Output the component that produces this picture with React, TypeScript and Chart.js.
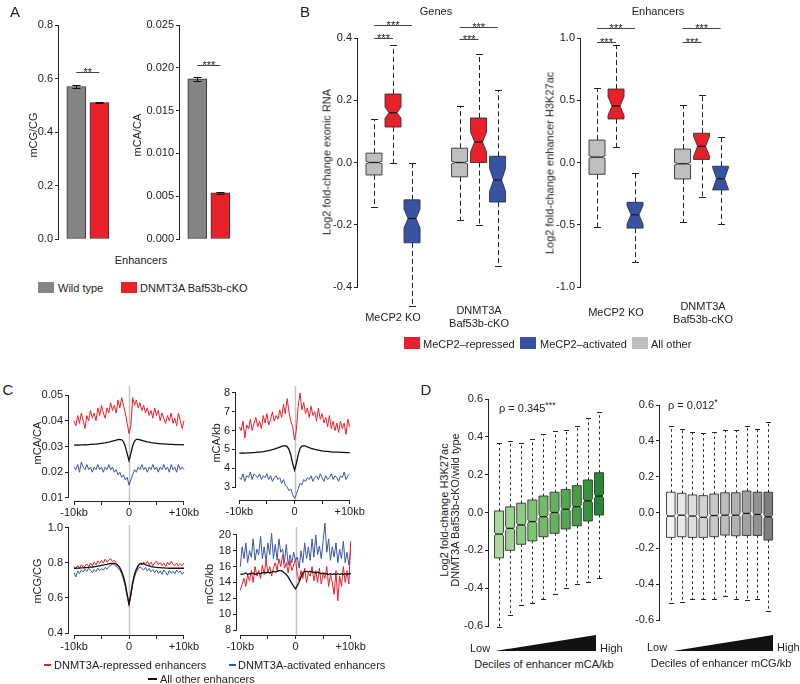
import React, { useEffect, useRef } from 'react';
import { Chart, registerables } from 'chart.js';
Chart.register(...registerables);

const FONT = "'Liberation Sans', Arial, Helvetica, sans-serif";
Chart.defaults.font.family = FONT;
Chart.defaults.font.size = 11;
Chart.defaults.color = '#222';

// ---------- Panel A ----------
const A_POS = [1, 2];
const A_GROUPS = ['Wild type', 'DNMT3A Baf53b-cKO'];
const A_COLORS = ['#858585', '#E8202A'];
const A_MCG = [0.57, 0.51];
const A_MCG_ERR = [0.004, 0.003];
const A_MCA = [0.0187, 0.0054];
const A_MCA_ERR = [0.0002, 0.00012];
const A_MCG_TICKS = [0, 0.2, 0.4, 0.6, 0.8];
const A_MCA_TICKS = [0, 0.005, 0.01, 0.015, 0.02, 0.025];

// ---------- Panel B ----------
const B_POS = [1, 2, 3, 5.5, 6.5, 7.5];
const B_GROUPS = ['MeCP2 KO', 'DNMT3A Baf53b-cKO'];
const B_CLASSES = ['MeCP2\u2013repressed', 'MeCP2\u2013activated', 'All other'];
const B_COLORS = ['#BFBFBF', '#E8202A', '#3853A4', '#BFBFBF', '#E8202A', '#3853A4'];
const GENES_LO = [-0.143, 0.0, -0.46, -0.185, -0.2, -0.332];
const GENES_Q1 = [-0.04, 0.114, -0.258, -0.046, 0.0, -0.127];
const GENES_MED = [0.0, 0.16, -0.18, 0.0, 0.066, -0.056];
const GENES_Q3 = [0.03, 0.22, -0.12, 0.046, 0.143, 0.02];
const GENES_HI = [0.14, 0.377, 0.0, 0.18, 0.35, 0.233];
const GENES_NOTCH = [0.004, 0.018, 0.03, 0.004, 0.032, 0.037];
const GENES_TICKS = [-0.4, -0.2, 0, 0.2, 0.4];
const ENH_LO = [-0.516, 0.126, -0.8, -0.48, -0.28, -0.49];
const ENH_Q1 = [-0.095, 0.35, -0.527, -0.132, 0.025, -0.22];
const ENH_MED = [0.043, 0.454, -0.42, -0.01, 0.13, -0.13];
const ENH_Q3 = [0.18, 0.59, -0.32, 0.108, 0.235, -0.03];
const ENH_HI = [0.6, 0.94, -0.085, 0.46, 0.54, 0.205];
const ENH_NOTCH = [0.01, 0.075, 0.075, 0.01, 0.08, 0.09];
const ENH_TICKS = [-1, -0.5, 0, 0.5, 1];

// ---------- Panel C ----------
const KB = [-10, -9.67, -9.33, -9, -8.67, -8.33, -8, -7.67, -7.33, -7, -6.67, -6.33, -6, -5.67, -5.33, -5, -4.67, -4.33, -4, -3.67, -3.33, -3, -2.67, -2.33, -2, -1.67, -1.33, -1, -0.67, -0.33, 0, 0.33, 0.67, 1, 1.33, 1.67, 2, 2.33, 2.67, 3, 3.33, 3.67, 4, 4.33, 4.67, 5, 5.33, 5.67, 6, 6.33, 6.67, 7, 7.33, 7.67, 8, 8.33, 8.67, 9, 9.33, 9.67, 10];
const C_XTICKS = [-10, -5, 0, 5, 10];
const C_XLABELS = ['-10kb', '', '0', '', '+10kb'];

const C1_RED = [0.040, 0.038, 0.042, 0.039, 0.043, 0.040, 0.037, 0.042, 0.040, 0.044,
  0.041, 0.043, 0.040, 0.045, 0.042, 0.046, 0.043, 0.041, 0.045, 0.043,
  0.047, 0.044, 0.046, 0.043, 0.048, 0.045, 0.049, 0.046, 0.043, 0.039,
  0.035,
  0.038, 0.049, 0.046, 0.048, 0.045, 0.047, 0.044, 0.046, 0.043, 0.045,
  0.042, 0.044, 0.041, 0.045, 0.042, 0.044, 0.040, 0.043, 0.041, 0.039,
  0.042, 0.040, 0.043, 0.039, 0.041, 0.038, 0.043, 0.040, 0.037, 0.040];
const C1_BLACK = [0.0305, 0.0305, 0.0306, 0.0305, 0.0306, 0.0306, 0.0307, 0.0306, 0.0307, 0.0308,
  0.0308, 0.0309, 0.0309, 0.0310, 0.0311, 0.0312, 0.0313, 0.0314, 0.0316, 0.0317,
  0.0319, 0.0321, 0.0323, 0.0325, 0.0327, 0.0328, 0.0326, 0.0318, 0.0300, 0.0272,
  0.0245,
  0.0272, 0.0303, 0.0320, 0.0328, 0.0328, 0.0326, 0.0324, 0.0322, 0.0320, 0.0318,
  0.0317, 0.0315, 0.0314, 0.0313, 0.0312, 0.0311, 0.0311, 0.0310, 0.0310, 0.0309,
  0.0309, 0.0308, 0.0308, 0.0308, 0.0307, 0.0307, 0.0307, 0.0307, 0.0306, 0.0307];
const C1_BLUE = [0.022, 0.021, 0.023, 0.020, 0.024, 0.022, 0.021, 0.023, 0.021, 0.022,
  0.020, 0.022, 0.021, 0.023, 0.021, 0.022, 0.020, 0.022, 0.021, 0.023,
  0.021, 0.022, 0.020, 0.021, 0.019, 0.020, 0.018, 0.019, 0.017, 0.018,
  0.015,
  0.017, 0.019, 0.021, 0.020, 0.022, 0.021, 0.023, 0.021, 0.022, 0.020,
  0.022, 0.021, 0.023, 0.021, 0.022, 0.020, 0.022, 0.021, 0.023, 0.021,
  0.022, 0.020, 0.023, 0.021, 0.022, 0.020, 0.023, 0.021, 0.022, 0.021];
const C1_TICKS = [0.01, 0.02, 0.03, 0.04, 0.05];

const C2_RED = [6.2, 6.0, 6.5, 5.6, 6.3, 6.1, 6.6, 6.0, 6.4, 6.7,
  6.2, 6.5, 6.1, 6.8, 6.4, 6.9, 6.3, 6.6, 7.0, 6.5,
  6.8, 6.6, 7.1, 6.7, 7.4, 6.9, 7.7, 7.0, 6.5, 6.2,
  5.5,
  6.0, 7.3, 8.0, 7.1, 7.5, 6.9, 7.2, 6.7, 7.3, 6.8,
  7.0, 6.5, 7.2, 6.6, 6.9, 6.4, 6.7, 6.2, 6.8, 6.1,
  6.5, 6.0, 6.4, 5.9, 6.5, 6.1, 6.4, 5.8, 6.6, 6.2];
const C2_BLACK = [4.80, 4.80, 4.81, 4.80, 4.81, 4.82, 4.82, 4.83, 4.83, 4.84,
  4.85, 4.86, 4.87, 4.88, 4.90, 4.92, 4.94, 4.96, 4.99, 5.02,
  5.05, 5.08, 5.12, 5.16, 5.19, 5.20, 5.15, 5.00, 4.70, 4.25,
  3.90,
  4.25, 4.72, 5.05, 5.18, 5.20, 5.17, 5.13, 5.10, 5.06, 5.03,
  5.00, 4.98, 4.96, 4.94, 4.92, 4.91, 4.90, 4.89, 4.88, 4.87,
  4.86, 4.86, 4.85, 4.85, 4.84, 4.84, 4.84, 4.83, 4.83, 4.83];
const C2_BLUE = [3.5, 3.4, 3.7, 3.3, 3.6, 3.5, 3.8, 3.4, 3.7, 3.6,
  3.5, 3.7, 3.4, 3.6, 3.5, 3.7, 3.4, 3.6, 3.3, 3.5,
  3.6, 3.4, 3.5, 3.2, 3.4, 3.1, 3.0, 2.8, 2.9, 2.6,
  2.4,
  2.6, 2.9, 3.2, 3.1, 3.4, 3.3, 3.5, 3.4, 3.6, 3.3,
  3.5, 3.6, 3.4, 3.7, 3.5, 3.3, 3.6, 3.4, 3.5, 3.7,
  3.4, 3.6, 3.5, 3.3, 3.6, 3.5, 3.8, 3.4, 3.6, 3.7];
const C2_TICKS = [3, 4, 5, 6, 7, 8];

const C3_RED = [0.780, 0.765, 0.785, 0.770, 0.790, 0.775, 0.782, 0.795, 0.778, 0.800,
  0.785, 0.805, 0.790, 0.812, 0.798, 0.815, 0.800, 0.822, 0.805, 0.818,
  0.825, 0.808, 0.815, 0.800, 0.790, 0.775, 0.748, 0.718, 0.675, 0.615,
  0.570,
  0.625, 0.685, 0.730, 0.760, 0.778, 0.800, 0.790, 0.805, 0.795, 0.810,
  0.790, 0.805, 0.785, 0.800, 0.812, 0.790, 0.802, 0.785, 0.798, 0.780,
  0.805, 0.788, 0.810, 0.792, 0.785, 0.800, 0.782, 0.795, 0.785, 0.800];
const C3_BLACK = [0.770, 0.770, 0.771, 0.771, 0.772, 0.772, 0.773, 0.774, 0.775, 0.776,
  0.777, 0.778, 0.780, 0.782, 0.784, 0.786, 0.788, 0.790, 0.792, 0.795,
  0.797, 0.798, 0.797, 0.793, 0.785, 0.772, 0.752, 0.722, 0.680, 0.620,
  0.565,
  0.620, 0.690, 0.735, 0.765, 0.785, 0.795, 0.797, 0.795, 0.790, 0.786,
  0.783, 0.780, 0.778, 0.776, 0.775, 0.774, 0.773, 0.772, 0.772, 0.771,
  0.771, 0.770, 0.770, 0.770, 0.770, 0.770, 0.770, 0.770, 0.770, 0.770];
const C3_BLUE = [0.745, 0.720, 0.755, 0.740, 0.760, 0.748, 0.765, 0.752, 0.770, 0.758,
  0.745, 0.762, 0.750, 0.770, 0.755, 0.768, 0.760, 0.775, 0.765, 0.780,
  0.785, 0.795, 0.790, 0.780, 0.770, 0.760, 0.738, 0.705, 0.665, 0.610,
  0.560,
  0.610, 0.675, 0.720, 0.748, 0.765, 0.778, 0.770, 0.760, 0.775, 0.755,
  0.768, 0.750, 0.762, 0.745, 0.760, 0.740, 0.755, 0.735, 0.760, 0.748,
  0.730, 0.758, 0.742, 0.752, 0.738, 0.760, 0.745, 0.755, 0.735, 0.750];
const C3_TICKS = [0.4, 0.6, 0.8, 1.0];

const C4_RED = [13.0, 13.8, 14.5, 13.5, 15.0, 14.2, 15.5, 14.0, 16.0, 14.8,
  15.5, 14.5, 16.2, 15.0, 16.8, 15.2, 16.0, 14.8, 15.8, 16.5,
  15.5, 17.0, 16.0, 17.5, 15.8, 16.5, 15.2, 16.8, 15.5, 16.2,
  17.0,
  15.0, 14.2, 15.5, 14.5, 15.8, 14.0, 15.2, 14.8, 16.0, 14.2,
  15.5, 14.0, 15.8, 13.8, 15.2, 14.5, 16.0, 13.5, 15.0, 14.0,
  12.5, 15.5, 11.7, 14.8, 13.5, 16.0, 14.0, 15.5, 13.8, 19.2];
const C4_BLACK = [15.1, 15.0, 15.1, 15.2, 15.0, 15.1, 15.1, 15.2, 15.0, 15.1,
  15.2, 15.1, 15.2, 15.3, 15.2, 15.3, 15.2, 15.3, 15.4, 15.3,
  15.4, 15.5, 15.5, 15.4, 15.2, 15.0, 14.7, 14.3, 13.9, 13.5,
  13.2,
  13.6, 14.1, 14.7, 15.2, 15.4, 15.4, 15.3, 15.4, 15.3, 15.3,
  15.2, 15.3, 15.2, 15.1, 15.2, 15.1, 15.1, 15.0, 15.1, 15.0,
  15.1, 15.0, 15.1, 15.0, 15.1, 15.0, 15.1, 15.0, 15.1, 15.1];
const C4_BLUE = [16.0, 18.5, 17.0, 19.0, 16.5, 18.0, 17.2, 19.5, 16.8, 18.2,
  17.5, 19.8, 17.0, 18.5, 16.5, 19.0, 17.5, 20.2, 17.0, 18.8,
  16.8, 19.5, 17.8, 18.2, 16.5, 18.8, 16.2, 17.5, 16.5, 17.8,
  16.8,
  17.2, 15.8, 18.0, 16.5, 19.0, 17.0, 18.5, 16.8, 19.5, 17.2,
  20.0, 17.5, 18.6, 17.0, 19.2, 21.5, 17.8, 19.5, 16.8, 18.5,
  17.2, 19.0, 16.5, 18.2, 17.0, 19.2, 16.5, 17.8, 16.2, 18.2];
const C4_TICKS = [8, 10, 12, 14, 16, 18, 20];
const C_SERIES = ['DNMT3A-repressed enhancers', 'DNMT3A-activated enhancers', 'All other enhancers'];
const C_COLORS = ['#E8202A', '#3A56A8', '#111111'];

// ---------- Panel D ----------
const D_POS = [1, 2, 3, 4, 5, 6, 7, 8, 9, 10];
const D_TICKS = [-0.6, -0.4, -0.2, 0, 0.2, 0.4, 0.6];
const DL_LO = [-0.604, -0.54, -0.49, -0.477, -0.455, -0.43, -0.40, -0.38, -0.365, -0.345];
const DL_Q1 = [-0.24, -0.20, -0.168, -0.15, -0.128, -0.11, -0.087, -0.07, -0.045, -0.013];
const DL_MED = [-0.114, -0.084, -0.066, -0.048, -0.022, 0.0, 0.018, 0.031, 0.062, 0.087];
const DL_Q3 = [0.008, 0.03, 0.049, 0.066, 0.087, 0.107, 0.122, 0.142, 0.172, 0.21];
const DL_HI = [0.37, 0.377, 0.37, 0.39, 0.415, 0.43, 0.436, 0.458, 0.50, 0.533];
const DR_LO = [-0.507, -0.497, -0.485, -0.48, -0.48, -0.467, -0.48, -0.49, -0.48, -0.55];
const DR_Q1 = [-0.139, -0.135, -0.139, -0.139, -0.135, -0.126, -0.13, -0.128, -0.128, -0.154];
const DR_MED = [-0.02, -0.015, -0.02, -0.027, -0.017, -0.015, -0.015, -0.005, -0.011, -0.024];
const DR_Q3 = [0.113, 0.107, 0.098, 0.094, 0.103, 0.11, 0.11, 0.12, 0.113, 0.113];
const DR_HI = [0.48, 0.467, 0.448, 0.442, 0.452, 0.458, 0.458, 0.48, 0.467, 0.507];
const D_NOTCH = [0.01, 0.01, 0.01, 0.01, 0.01, 0.01, 0.01, 0.01, 0.01, 0.01];
const D_GREENS = ['#A9D99C', '#9CD28F', '#8FCB82', '#81C375', '#73BB69', '#64B25D', '#55A851', '#469E47', '#37943E', '#278936'];
const D_GREYS = ['#F2F2F2', '#E8E8E8', '#DEDEDE', '#D3D3D3', '#C8C8C8', '#BDBDBD', '#B1B1B1', '#A2A2A2', '#939393', '#7E7E7E'];

// ---------- helpers ----------
const tickGrid = { display: true, drawOnChartArea: false, drawTicks: true, tickLength: 4, color: '#222', lineWidth: 1, offset: false };

function yAxis(min: number, max: number, ticks: number[], dec: number, w: number) {
  return {
    type: 'linear', min, max, bounds: 'data', offset: false,
    afterBuildTicks: (s: any) => { s.ticks = ticks.map((v) => ({ value: v })); },
    afterFit: (s: any) => { s.width = w; },
    grid: tickGrid,
    border: { display: false },
    ticks: { callback: (v: any) => Number(v).toFixed(dec), padding: 2, autoSkip: false, color: '#222', font: { size: 11 } },
  };
}
function xHidden(min: number, max: number, h: number) {
  return {
    type: 'linear', min, max, bounds: 'data', offset: false,
    afterFit: (s: any) => { s.height = h; },
    grid: { display: false, offset: false }, border: { display: false }, ticks: { display: false },
  };
}
function xTicks(min: number, max: number, ticks: number[], labels: string[], h: number) {
  return {
    type: 'linear', min, max, bounds: 'data', offset: false,
    afterBuildTicks: (s: any) => { s.ticks = ticks.map((v) => ({ value: v })); },
    afterFit: (s: any) => { s.height = h; },
    grid: tickGrid, border: { display: false },
    ticks: { callback: (_v: any, i: number) => labels[i], padding: 1, autoSkip: false, maxRotation: 0, color: '#222', font: { size: 11 } },
  };
}
function baseOptions(x: any, y: any) {
  return {
    responsive: false, animation: false,
    plugins: { legend: { display: false }, tooltip: { enabled: false }, colors: { enabled: false } },
    scales: { x, y },
  };
}
const rAxes = (drawX: boolean) => ({
  id: 'rAxes',
  afterDraw(chart: any) {
    const { ctx, chartArea } = chart;
    ctx.save();
    ctx.strokeStyle = '#222'; ctx.lineWidth = 1;
    const ys = chart.scales.y; const yt = ys.ticks;
    const xl = Math.round(chartArea.left) - 0.5;
    ctx.beginPath();
    ctx.moveTo(xl, ys.getPixelForValue(yt[0].value));
    ctx.lineTo(xl, ys.getPixelForValue(yt[yt.length - 1].value));
    ctx.stroke();
    if (drawX) {
      const xs = chart.scales.x; const xt = xs.ticks;
      const yb = Math.round(chartArea.bottom) + 0.5;
      ctx.beginPath();
      ctx.moveTo(xs.getPixelForValue(xt[0].value), yb);
      ctx.lineTo(xs.getPixelForValue(xt[xt.length - 1].value), yb);
      ctx.stroke();
    }
    ctx.restore();
  },
});
const zeroLine = {
  id: 'zeroLine',
  beforeDatasetsDraw(chart: any) {
    const { ctx, chartArea } = chart;
    const x = Math.round(chart.scales.x.getPixelForValue(0)) + 0.5;
    ctx.save(); ctx.strokeStyle = '#c4c4c4'; ctx.lineWidth = 1.5;
    ctx.beginPath(); ctx.moveTo(x, chartArea.top); ctx.lineTo(x, chartArea.bottom); ctx.stroke();
    ctx.restore();
  },
};
function sigPlugin(items: { x1: number; x2: number; y: number; label: string }[]) {
  return {
    id: 'sig',
    afterDraw(chart: any) {
      const { ctx } = chart; const xs = chart.scales.x, ys = chart.scales.y;
      ctx.save();
      ctx.strokeStyle = '#444'; ctx.lineWidth = 1; ctx.fillStyle = '#222';
      ctx.font = `11px ${FONT}`; ctx.textAlign = 'center'; ctx.textBaseline = 'alphabetic';
      items.forEach((it) => {
        const x1 = xs.getPixelForValue(it.x1), x2 = xs.getPixelForValue(it.x2);
        const y = Math.round(ys.getPixelForValue(it.y)) + 0.5;
        ctx.beginPath(); ctx.moveTo(x1, y); ctx.lineTo(x2, y); ctx.stroke();
        ctx.fillText(it.label, (x1 + x2) / 2, y + 3.5);
      });
      ctx.restore();
    },
  };
}
function errPlugin(pos: number[], vals: number[], errs: number[]) {
  return {
    id: 'err',
    afterDatasetsDraw(chart: any) {
      const { ctx } = chart; const xs = chart.scales.x, ys = chart.scales.y;
      ctx.save(); ctx.strokeStyle = '#111'; ctx.lineWidth = 1;
      pos.forEach((p, i) => {
        const x = Math.round(xs.getPixelForValue(p)) + 0.5;
        const a = Math.round(ys.getPixelForValue(vals[i] + errs[i])) + 0.5;
        const b = Math.round(ys.getPixelForValue(vals[i] - errs[i])) + 0.5;
        ctx.beginPath();
        ctx.moveTo(x, a); ctx.lineTo(x, b);
        ctx.moveTo(x - 4, a); ctx.lineTo(x + 4, a);
        ctx.moveTo(x - 4, b); ctx.lineTo(x + 4, b);
        ctx.stroke();
      });
      ctx.restore();
    },
  };
}
type BoxOpts = { pos: number[]; lo: number[]; q1: number[]; med: number[]; q3: number[]; hi: number[]; notch: number[]; colors: string[]; hw: number; inner: number; cap: number; dash: number[] };
function boxPlugin(o: BoxOpts) {
  return {
    id: 'boxes',
    afterDatasetsDraw(chart: any) {
      const { ctx } = chart; const xs = chart.scales.x, ys = chart.scales.y;
      const Y = (v: number) => ys.getPixelForValue(v);
      ctx.save();
      o.pos.forEach((p, i) => {
        const x = xs.getPixelForValue(p);
        const xc = Math.round(x) + 0.5;
        const top = Y(o.q3[i]), bot = Y(o.q1[i]), m = Y(o.med[i]);
        const nt = Math.max(top, Y(o.med[i] + o.notch[i]));
        const nb = Math.min(bot, Y(o.med[i] - o.notch[i]));
        const yh = Math.round(Y(o.hi[i])) + 0.5, yl = Math.round(Y(o.lo[i])) + 0.5;
        ctx.strokeStyle = '#222'; ctx.lineWidth = 1;
        ctx.setLineDash(o.dash);
        ctx.beginPath();
        ctx.moveTo(xc, top); ctx.lineTo(xc, yh);
        ctx.moveTo(xc, bot); ctx.lineTo(xc, yl);
        ctx.stroke();
        ctx.setLineDash([]);
        ctx.beginPath();
        ctx.moveTo(xc - o.cap, yh); ctx.lineTo(xc + o.cap, yh);
        ctx.moveTo(xc - o.cap, yl); ctx.lineTo(xc + o.cap, yl);
        ctx.stroke();
        const L = x - o.hw, R = x + o.hw, il = x - o.inner, ir = x + o.inner;
        ctx.beginPath();
        ctx.moveTo(L, top); ctx.lineTo(R, top); ctx.lineTo(R, nt); ctx.lineTo(ir, m); ctx.lineTo(R, nb);
        ctx.lineTo(R, bot); ctx.lineTo(L, bot); ctx.lineTo(L, nb); ctx.lineTo(il, m); ctx.lineTo(L, nt);
        ctx.closePath();
        ctx.fillStyle = o.colors[i]; ctx.fill();
        ctx.strokeStyle = '#333'; ctx.lineWidth = 0.9; ctx.stroke();
        ctx.beginPath(); ctx.lineWidth = 1.3; ctx.strokeStyle = '#1a1a1a';
        ctx.moveTo(il, m); ctx.lineTo(ir, m); ctx.stroke();
      });
      ctx.restore();
    },
  };
}

type Spec = { box: number[]; area: number[]; build: (yw: number, xh: number) => any };

function ChartBox({ spec }: { spec: Spec }) {
  const ref = useRef<HTMLCanvasElement>(null);
  useEffect(() => {
    const [bx, by, bw, bh] = spec.box;
    const [l, t, r, b] = spec.area;
    const cfg = spec.build(l - bx, by + bh - b);
    cfg.options.layout = { padding: { left: 0, top: t - by, right: bx + bw - r, bottom: 0 } };
    const chart = new Chart(ref.current as HTMLCanvasElement, cfg);
    return () => chart.destroy();
  }, []);
  const [bx, by, bw, bh] = spec.box;
  return <canvas ref={ref} width={bw} height={bh} style={{ position: 'absolute', left: bx, top: by, width: bw, height: bh }} />;
}

function barSpec(box: number[], area: number[], vals: number[], errs: number[], ticks: number[], dec: number, max: number, sigY: number, sig: string): Spec {
  return {
    box, area,
    build: (yw, xh) => ({
      type: 'bar',
      data: {
        datasets: [{
          label: 'Enhancers',
          data: A_POS.map((p, i) => ({ x: p, y: vals[i] })),
          backgroundColor: A_COLORS, borderColor: '#333', borderWidth: 1, borderSkipped: false, barThickness: 19,
        }],
      },
      options: baseOptions(xHidden(0.25, 2.98, xh), yAxis(0, max, ticks, dec, yw)),
      plugins: [rAxes(false), errPlugin(A_POS, vals, errs), sigPlugin([{ x1: 1, x2: 2, y: sigY, label: sig }])],
    }),
  };
}

function boxSpec(box: number[], area: number[], xr: number[], yr: number[], ticks: number[], bo: BoxOpts, sig: any[]): Spec {
  return {
    box, area,
    build: (yw, xh) => ({
      type: 'scatter',
      data: { datasets: [{ data: bo.pos.map((p, i) => ({ x: p, y: bo.med[i] })), pointRadius: 0, borderColor: 'rgba(0,0,0,0)', backgroundColor: 'rgba(0,0,0,0)' }] },
      options: baseOptions(xHidden(xr[0], xr[1], xh), yAxis(yr[0], yr[1], ticks, 1, yw)),
      plugins: [rAxes(false), boxPlugin(bo), sigPlugin(sig)],
    }),
  };
}

function lineSpec(box: number[], area: number[], xr: number, yr: number[], ticks: number[], dec: number, red: number[], blue: number[], black: number[]): Spec {
  const ds = (vals: number[], color: string, w: number, label: string) => ({
    label, data: vals.map((v, i) => ({ x: KB[i], y: v })), borderColor: color, backgroundColor: 'rgba(0,0,0,0)', borderWidth: w,
    pointRadius: 0, tension: 0, clip: false, fill: false,
  });
  return {
    box, area,
    build: (yw, xh) => ({
      type: 'line',
      data: { datasets: [ds(black, C_COLORS[2], 1.3, C_SERIES[2]), ds(red, C_COLORS[0], 1, C_SERIES[0]), ds(blue, C_COLORS[1], 1, C_SERIES[1])] },
      options: baseOptions(xTicks(-xr, xr, C_XTICKS, C_XLABELS, xh), yAxis(yr[0], yr[1], ticks, dec, yw)),
      plugins: [zeroLine, rAxes(true)],
    }),
  };
}

const SPECS: Spec[] = [
  barSpec([20, 10, 120, 240], [59, 25, 122, 239], A_MCG, A_MCG_ERR, A_MCG_TICKS, 1, 0.8, 0.624, '**'),
  barSpec([140, 10, 125, 240], [180, 25, 243, 239], A_MCA, A_MCA_ERR, A_MCA_TICKS, 3, 0.025, 0.0203, '***'),
  boxSpec([320, 15, 215, 300], [358, 38, 520, 287], [0.158, 8.68], [-0.4, 0.4], GENES_TICKS,
    { pos: B_POS, lo: GENES_LO, q1: GENES_Q1, med: GENES_MED, q3: GENES_Q3, hi: GENES_HI, notch: GENES_NOTCH, colors: B_COLORS, hw: 8, inner: 4, cap: 3.5, dash: [5, 3] },
    [{ x1: 1, x2: 3, y: 0.442, label: '***' }, { x1: 1, x2: 2, y: 0.4, label: '***' }, { x1: 5.5, x2: 7.5, y: 0.435, label: '***' }, { x1: 5.5, x2: 6.5, y: 0.397, label: '***' }]),
  boxSpec([540, 15, 220, 300], [581, 38, 743, 287], [0.158, 8.68], [-1, 1], ENH_TICKS,
    { pos: B_POS, lo: ENH_LO, q1: ENH_Q1, med: ENH_MED, q3: ENH_Q3, hi: ENH_HI, notch: ENH_NOTCH, colors: B_COLORS, hw: 8, inner: 4, cap: 3.5, dash: [5, 3] },
    [{ x1: 1, x2: 3, y: 1.08, label: '***' }, { x1: 1, x2: 2, y: 0.968, label: '***' }, { x1: 5.5, x2: 7.5, y: 1.08, label: '***' }, { x1: 5.5, x2: 6.5, y: 0.968, label: '***' }]),
  lineSpec([30, 376, 175, 145], [69, 386, 189, 501], 10.91, [0.00883, 0.0535], C1_TICKS, 2, C1_RED, C1_BLUE, C1_BLACK),
  lineSpec([200, 376, 175, 145], [236, 386, 353, 500], 10.6, [2.31, 8.37], C2_TICKS, 0, C2_RED, C2_BLUE, C2_BLACK),
  lineSpec([30, 515, 175, 140], [69, 525, 189, 635], 10.91, [0.3886, 1.017], C3_TICKS, 1, C3_RED, C3_BLUE, C3_BLACK),
  lineSpec([200, 515, 175, 140], [237, 527, 354, 635], 10.6, [7.37, 21.0], C4_TICKS, 0, C4_RED, C4_BLUE, C4_BLACK),
  boxSpec([450, 385, 175, 250], [489, 399, 609, 626], [0.1, 10.9], [-0.6, 0.6], D_TICKS,
    { pos: D_POS, lo: DL_LO, q1: DL_Q1, med: DL_MED, q3: DL_Q3, hi: DL_HI, notch: D_NOTCH, colors: D_GREENS, hw: 4.5, inner: 3.2, cap: 2.5, dash: [2.5, 3] }, []),
  boxSpec([622, 390, 178, 240], [660, 405, 778, 620], [0.0, 10.9], [-0.6, 0.6], D_TICKS,
    { pos: D_POS, lo: DR_LO, q1: DR_Q1, med: DR_MED, q3: DR_Q3, hi: DR_HI, notch: D_NOTCH, colors: D_GREYS, hw: 4.3, inner: 3.0, cap: 2.5, dash: [2.5, 3] }, []),
];

function T({ x, y, s = 11, rot = 0, anchor = 'middle', children }: any) {
  const tx = anchor === 'middle' ? '-50%' : anchor === 'start' ? '0' : '-100%';
  return (
    <div style={{
      position: 'absolute', left: x, top: y, transform: `translate(${tx},-50%) rotate(${rot}deg)`,
      fontSize: s, lineHeight: 1, whiteSpace: 'nowrap', fontFamily: FONT, color: '#222',
    }}>{children}</div>
  );
}
function Sw({ x, y, w, h, c }: any) {
  return <div style={{ position: 'absolute', left: x, top: y, width: w, height: h, background: c }} />;
}

export default function App() {
  return (
    <div style={{ position: 'absolute', left: 0, top: 0, width: 800, height: 684, overflow: 'hidden', background: '#fff', fontFamily: FONT }}>
      <svg style={{ position: 'absolute', left: 0, top: 0 }} width={800} height={684}>
        <polygon points="495,651 596,651 596,635" fill="#111" />
        <polygon points="673,651 773,651 773,635" fill="#111" />
      </svg>
      {SPECS.map((s, i) => <ChartBox key={i} spec={s} />)}

      {/* panel letters */}
      <T x={15} y={11} s={15}>A</T>
      <T x={305} y={11} s={15}>B</T>
      <T x={8} y={389} s={15}>C</T>
      <T x={426} y={389} s={15}>D</T>

      {/* A */}
      <T x={33} y={135} rot={-90}>mCG/CG</T>
      <T x={137} y={135} rot={-90}>mCA/CA</T>
      <T x={141} y={260}>Enhancers</T>
      <Sw x={38} y={282} w={16} h={11} c={A_COLORS[0]} />
      <T x={58} y={288} anchor="start">{A_GROUPS[0]}</T>
      <Sw x={121} y={282} w={16} h={11} c={A_COLORS[1]} />
      <T x={140} y={288} anchor="start">{A_GROUPS[1]}</T>

      {/* B */}
      <T x={436} y={11}>Genes</T>
      <T x={658} y={11}>Enhancers</T>
      <T x={327} y={162} rot={-90}>Log2 fold-change exonic RNA</T>
      <T x={550} y={163} rot={-90}>Log2 fold-change enhancer H3K27ac</T>
      <T x={393} y={317}>{B_GROUPS[0]}</T>
      <T x={479} y={310}>DNMT3A</T>
      <T x={479} y={323}>Baf53b-cKO</T>
      <T x={616} y={312}>{B_GROUPS[0]}</T>
      <T x={703} y={306}>DNMT3A</T>
      <T x={703} y={319}>Baf53b-cKO</T>
      <Sw x={404} y={337} w={16} h={12} c={B_COLORS[1]} />
      <T x={423} y={344} anchor="start">{B_CLASSES[0]}</T>
      <Sw x={520} y={337} w={16} h={12} c={B_COLORS[2]} />
      <T x={540} y={344} anchor="start">{B_CLASSES[1]}</T>
      <Sw x={632} y={337} w={16} h={12} c={B_COLORS[0]} />
      <T x={651} y={344} anchor="start">{B_CLASSES[2]}</T>

      {/* C */}
      <T x={37} y={443} rot={-90}>mCA/CA</T>
      <T x={216} y={443} rot={-90}>mCA/kb</T>
      <T x={37} y={581} rot={-90}>mCG/CG</T>
      <T x={209} y={584} rot={-90}>mCG/kb</T>
      <Sw x={44} y={664} w={7} h={2} c={C_COLORS[0]} />
      <T x={54} y={665} anchor="start">{C_SERIES[0]}</T>
      <Sw x={229} y={664} w={7} h={2} c={C_COLORS[1]} />
      <T x={238} y={665} anchor="start">{C_SERIES[1]}</T>
      <Sw x={148} y={678} w={9} h={2} c={C_COLORS[2]} />
      <T x={160} y={679} anchor="start">{C_SERIES[2]}</T>

      {/* D */}
      <T x={444} y={510} rot={-90}>Log2 fold-change H3K27ac</T>
      <T x={455} y={510} rot={-90}>DNMT3A Baf53b-cKO/wild type</T>
      <T x={499} y={408} anchor="start">{'\u03C1 = 0.345'}<span style={{ position: 'relative', top: -4, fontSize: 9 }}>***</span></T>
      <T x={668} y={405} anchor="start">{'\u03C1 = 0.012'}<span style={{ position: 'relative', top: -4, fontSize: 9 }}>*</span></T>
      <T x={480} y={648}>Low</T>
      <T x={600} y={648} anchor="start">High</T>
      <T x={544} y={664}>Deciles of enhancer mCA/kb</T>
      <T x={657} y={647}>Low</T>
      <T x={777} y={647} anchor="start">High</T>
      <T x={721} y={663}>Deciles of enhancer mCG/kb</T>
    </div>
  );
}
